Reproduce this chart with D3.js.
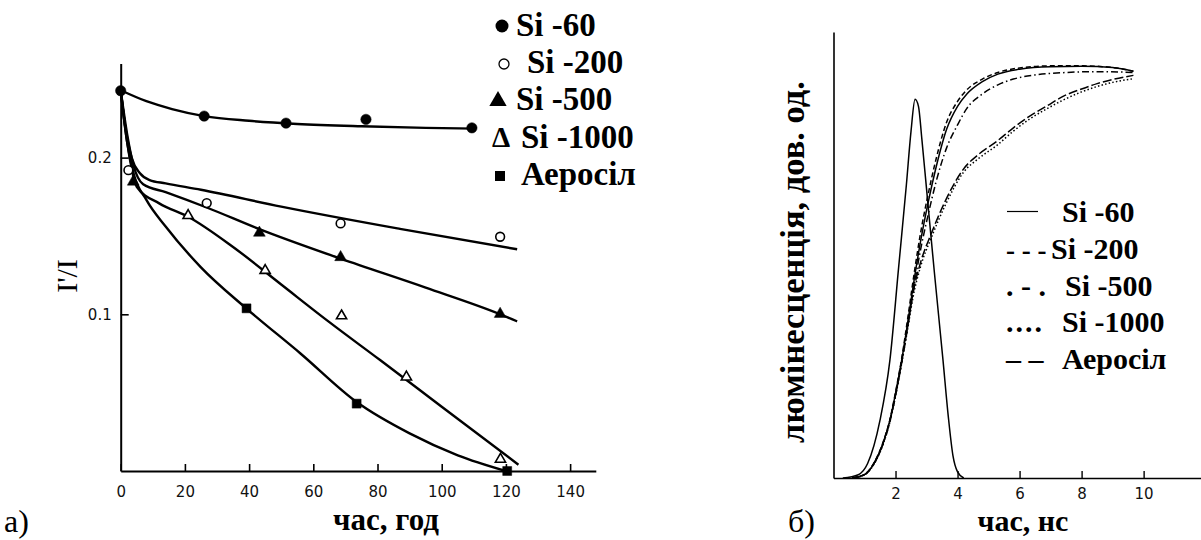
<!DOCTYPE html>
<html lang="uk">
<head>
<meta charset="utf-8">
<title>Si: I'/I та люмінесценція</title>
<script src="https://cdn.jsdelivr.net/npm/d3@7"></script>
<style>
  body { margin: 0; background: #fff; }
  svg { display: block; }
  .axis text { font-family: "DejaVu Sans", sans-serif; font-size: 15px; fill: #111; }
</style>
</head>
<body>
<script>
// ---- panel a) : I'/I vs time, hours ----
var hourTicks = [0, 20, 40, 60, 80, 100, 120, 140];
var ratioTicks = [0.1, 0.2];

// measured points [hours, I'/I]
var si60Pts = [[0, 0.2427], [26, 0.2265], [51.5, 0.222], [76.4, 0.2244], [109.4, 0.219]];
var si200Pts = [[2.4, 0.192], [26.8, 0.171], [68.5, 0.158], [118.2, 0.1495]];
var si500Pts = [[3.9, 0.1846], [43.2, 0.152], [68.5, 0.1364], [118.2, 0.1002]];
var si1000Pts = [[21, 0.163], [45, 0.128], [68.8, 0.099], [89, 0.06], [118.3, 0.0075]];
var aerosilPts = [[39.2, 0.1038], [73.5, 0.043], [120.4, 0]];

// drawn fit curves
var si60Fit = [[0, 0.243], [8, 0.236], [16, 0.231], [26, 0.2265], [40, 0.2235], [55, 0.2215], [75, 0.22], [95, 0.219], [110, 0.2185]];
var si200Fit = [[0, 0.243], [1.4, 0.22], [3.4, 0.2], [6, 0.19], [9, 0.1857], [14, 0.1836], [25, 0.1795], [50, 0.1687], [87, 0.1545], [123.5, 0.1415]];
var si500Fit = [[0, 0.243], [2, 0.215], [4, 0.195], [7, 0.183], [14, 0.178], [27, 0.168], [43, 0.1545], [68.5, 0.1355], [95, 0.117], [118, 0.1002], [123.5, 0.0955]];
var si1000Fit = [[0, 0.243], [2, 0.21], [5, 0.1814], [12, 0.1708], [21, 0.1623], [35, 0.143], [50, 0.119], [65, 0.095], [80.8, 0.0708], [100, 0.041], [123.9, 0.004]];
var aerosilFit = [[0, 0.243], [2, 0.21], [4, 0.19], [8, 0.173], [14, 0.156], [25, 0.13], [39, 0.104], [56, 0.075], [73.5, 0.044], [90, 0.024], [105, 0.01], [120, 0]];

var legendA = ["Si -60", "Si -200", "Si -500", "Si -1000", "Аеросіл"];

// ---- panel б) : luminescence vs time, ns ----
var nsTicks = [2, 4, 6, 8, 10];
var pulse = [[0.3, 0], [0.8, 0.008], [1.1, 0.035], [1.5, 0.14], [1.82, 0.286], [2.1, 0.51], [2.35, 0.71], [2.5, 0.84], [2.63, 0.917], [2.74, 0.9], [2.85, 0.82], [3.0, 0.7], [3.25, 0.5], [3.53, 0.286], [3.7, 0.15], [3.85, 0.055], [4.0, 0.015], [4.2, 0]];
var lum60 = [[0.6, 0], [1.0, 0.008], [1.3, 0.035], [1.6, 0.085], [1.82, 0.14], [2.0, 0.205], [2.2, 0.286], [2.4, 0.38], [2.6, 0.48], [2.8, 0.57], [3.06, 0.67], [3.3, 0.75], [3.65, 0.845], [4.0, 0.9], [4.3, 0.93], [4.8, 0.96], [5.3, 0.978], [6.0, 0.99], [7.0, 0.996], [8.0, 0.997], [9.0, 0.994], [9.67, 0.985]];
var lum200 = [[0.6, 0], [1.0, 0.009], [1.3, 0.036], [1.6, 0.087], [1.82, 0.142], [2.0, 0.208], [2.2, 0.29], [2.4, 0.39], [2.6, 0.495], [2.8, 0.59], [3.06, 0.69], [3.3, 0.77], [3.65, 0.862], [4.0, 0.912], [4.3, 0.94], [4.8, 0.966], [5.3, 0.982], [6.0, 0.993], [7.0, 0.998], [8.0, 0.998], [9.0, 0.994], [9.67, 0.985]];
var lum500 = [[0.6, 0], [1.0, 0.008], [1.3, 0.034], [1.6, 0.083], [1.82, 0.138], [2.0, 0.2], [2.2, 0.28], [2.4, 0.37], [2.6, 0.465], [2.8, 0.55], [3.06, 0.64], [3.3, 0.715], [3.65, 0.8], [4.0, 0.855], [4.3, 0.895], [4.8, 0.93], [5.3, 0.952], [5.8, 0.966], [6.5, 0.976], [7.5, 0.982], [8.5, 0.984], [9.67, 0.982]];
var lum1000 = [[0.6, 0], [1.0, 0.008], [1.3, 0.033], [1.6, 0.082], [1.82, 0.136], [2.0, 0.198], [2.2, 0.278], [2.4, 0.365], [2.57, 0.44], [2.8, 0.51], [3.17, 0.585], [3.6, 0.66], [4.19, 0.74], [4.7, 0.775], [5.26, 0.805], [5.8, 0.84], [6.34, 0.87], [6.9, 0.895], [7.4, 0.915], [8.0, 0.935], [8.5, 0.948], [9.0, 0.958], [9.67, 0.967]];
var lumAerosil = [[0.6, 0], [1.0, 0.008], [1.3, 0.034], [1.6, 0.084], [1.82, 0.139], [2.0, 0.2], [2.2, 0.282], [2.4, 0.37], [2.57, 0.45], [2.8, 0.52], [3.17, 0.595], [3.6, 0.67], [4.19, 0.748], [4.7, 0.785], [5.26, 0.815], [5.8, 0.848], [6.34, 0.877], [6.9, 0.902], [7.4, 0.924], [8.0, 0.942], [8.5, 0.955], [9.0, 0.965], [9.67, 0.975]];
var legendB = ["Si -60", "Si -200", "Si -500", "Si -1000", "Аеросіл"];
var legendBSamples = ["—", "- - -", ". - .", "....", "– –"];

var SERIF = "'Liberation Serif', 'Times New Roman', 'DejaVu Serif', serif";

var w = 1201, h = 540;
var svg = d3.select("body").append("svg").attr("width", w).attr("height", h);

function label(x, y, txt, size, bold) {
  return svg.append("text").attr("x", x).attr("y", y)
    .style("font-family", SERIF).style("font-size", size + "px")
    .style("font-weight", bold ? "bold" : "normal")
    .text(txt);
}

// ================= panel a =================
var xA = d3.scaleLinear().domain([0, 148]).range([120.7, 595.8]);
var yA = d3.scaleLinear().domain([0, 0.26]).range([471, 63.6]);

svg.append("g").attr("class", "axis")
  .attr("transform", "translate(0," + yA(0) + ")")
  .call(d3.axisBottom(xA).tickValues(hourTicks).tickSizeInner(-7).tickSizeOuter(0).tickPadding(15));
svg.append("g").attr("class", "axis")
  .attr("transform", "translate(" + xA(0) + ",0)")
  .call(d3.axisLeft(yA).tickValues(ratioTicks).tickSizeInner(-8).tickSizeOuter(0).tickPadding(9).tickFormat(d3.format(".1f")));
svg.selectAll(".axis .domain").attr("stroke", "#000").attr("stroke-width", 2);
svg.selectAll(".axis .tick line").attr("stroke", "#000").attr("stroke-width", 1.6);

var lineA = d3.line()
  .x(function(d) { return xA(d[0]); })
  .y(function(d) { return yA(d[1]); })
  .curve(d3.curveMonotoneX);

[si60Fit, si200Fit, si500Fit, si1000Fit, aerosilFit].forEach(function(c) {
  svg.append("path").attr("d", lineA(c))
    .attr("fill", "none").attr("stroke", "#000").attr("stroke-width", 2.4);
});

function drawPts(pts, type, size, filled) {
  svg.selectAll(null).data(pts).enter().append("path")
    .attr("d", d3.symbol().type(type).size(size))
    .attr("transform", function(d) { return "translate(" + xA(d[0]) + "," + yA(d[1]) + ")"; })
    .attr("fill", filled ? "#000" : "#fff")
    .attr("stroke", "#000")
    .attr("stroke-width", filled ? 0.5 : 1.6);
}
drawPts(si60Pts, d3.symbolCircle, 85, true);
drawPts(si200Pts, d3.symbolCircle, 60, false);
drawPts(si500Pts, d3.symbolTriangle, 60, true);
drawPts(si1000Pts, d3.symbolTriangle, 45, false);
drawPts(aerosilPts, d3.symbolSquare, 80, true);

// y title
label(0, 0, "I'/I", 30, false)
  .attr("transform", "translate(77,276) rotate(-90)")
  .attr("text-anchor", "middle");

// legend a
var legARows = [36, 73, 110, 148, 185];
var legAText = [516, 527, 516, 521, 521];
legendA.forEach(function(name, i) {
  label(legAText[i], legARows[i], name, 33, true);
});
svg.append("circle").attr("cx", 502).attr("cy", 26).attr("r", 6.5).attr("fill", "#000");
svg.append("circle").attr("cx", 504).attr("cy", 64).attr("r", 5).attr("fill", "none").attr("stroke", "#000").attr("stroke-width", 1.3);
svg.append("path").attr("d", d3.symbol().type(d3.symbolTriangle).size(130)())
  .attr("transform", "translate(498,101)").attr("fill", "#000");
label(501, legARows[3] - 1, "Δ", 29, true).attr("text-anchor", "middle");
svg.append("rect").attr("x", 495).attr("y", 171).attr("width", 10).attr("height", 10).attr("fill", "#000");

label(386, 530, "час, год", 31, true).attr("text-anchor", "middle");
label(4, 532, "а)", 32, false);

// ================= panel б =================
var xB = d3.scaleLinear().domain([0, 11.85]).range([833.5, 1201]);
var yB = d3.scaleLinear().domain([0, 1.08]).range([478, 32]);

svg.append("g").attr("class", "axis axisB")
  .attr("transform", "translate(0," + yB(0) + ")")
  .call(d3.axisBottom(xB).tickValues(nsTicks).tickSizeInner(-7).tickSizeOuter(0).tickPadding(10.5));
svg.append("g").attr("class", "axis axisB")
  .attr("transform", "translate(" + xB(0) + ",0)")
  .call(d3.axisLeft(yB).tickValues([]).tickSizeOuter(0));
svg.selectAll(".axisB .domain").attr("stroke", "#000").attr("stroke-width", 1.6);
svg.selectAll(".axisB .tick line").attr("stroke", "#000").attr("stroke-width", 1.4);

var lineB = d3.line()
  .x(function(d) { return xB(d[0]); })
  .y(function(d) { return yB(d[1]); })
  .curve(d3.curveMonotoneX);

var seriesB = [
  { data: pulse, dash: null },
  { data: lum60, dash: null },
  { data: lum200, dash: "5,3" },
  { data: lum500, dash: "7,3,1.5,3" },
  { data: lum1000, dash: "1.5,2.2" },
  { data: lumAerosil, dash: "9,3" }
];
seriesB.forEach(function(s) {
  svg.append("path").attr("d", lineB(s.data))
    .attr("fill", "none").attr("stroke", "#000").attr("stroke-width", 1.5)
    .attr("stroke-dasharray", s.dash);
});

// legend б
var legBRows = [222, 259, 296, 332, 369];
var legBText = [1062, 1051, 1065, 1062, 1062];
legendB.forEach(function(name, i) {
  label(legBText[i], legBRows[i], name, 30, true);
});
svg.append("line").attr("x1", 1007).attr("x2", 1038).attr("y1", 211.5).attr("y2", 211.5)
  .attr("stroke", "#000").attr("stroke-width", 1.2);
legendBSamples.forEach(function(s, i) {
  if (i === 0) return;
  var t = label(1006, legBRows[i], s, i === 1 ? 27 : 30, true);
  if (i === 3) t.style("letter-spacing", "2px");
});

label(0, 0, "люмінесценція, дов. од.", 34.5, true)
  .attr("transform", "translate(804,262) rotate(-90)")
  .attr("text-anchor", "middle");
label(1023, 531, "час, нс", 30, true).attr("text-anchor", "middle");
label(788, 532, "б)", 32, false);
</script>
</body>
</html>
